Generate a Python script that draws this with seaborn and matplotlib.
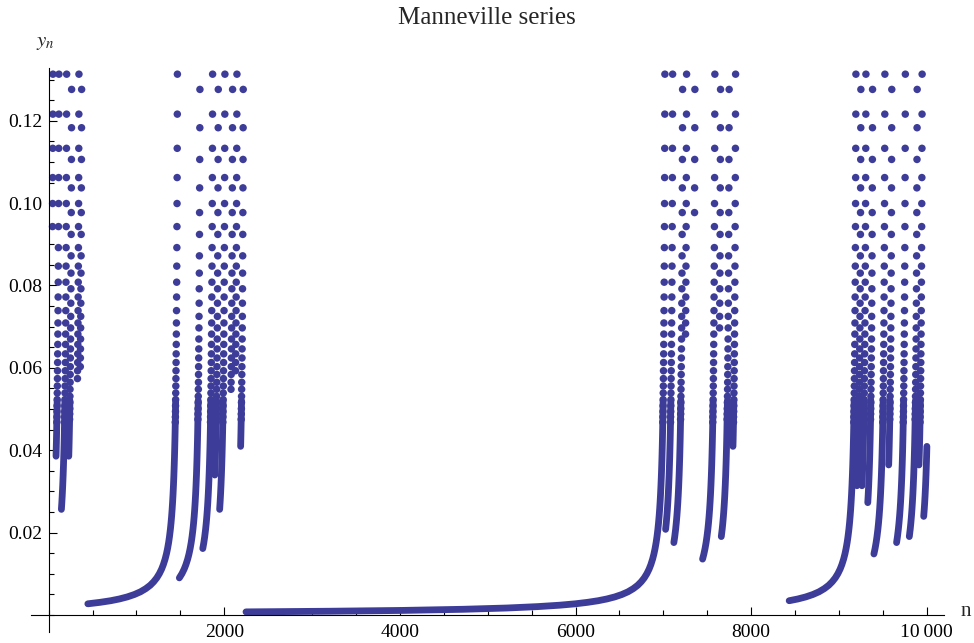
import matplotlib
matplotlib.use("Agg")
import matplotlib.pyplot as plt
import matplotlib.ticker as mticker
import numpy as np
import pandas as pd
import seaborn as sns

# ---------------- data ----------------
# upper "rungs" of every burst strand (y values of successive iterates,
# counted back from the top rung); phase A at integer steps, phase B at half steps
rung_y_a = [0.1313, 0.1216, 0.1133, 0.1062, 0.0999, 0.0943, 0.0892, 0.0847,
            0.0808, 0.0772, 0.0739, 0.0709, 0.0682, 0.0657, 0.0634, 0.0613,
            0.0593, 0.0574, 0.0556, 0.0539, 0.0523, 0.0508, 0.0494, 0.0481,
            0.0468]
rung_y_b = [0.1276, 0.1183, 0.1106, 0.1037, 0.0977, 0.0924, 0.0872, 0.0830,
            0.0792, 0.0757, 0.0725, 0.0697, 0.0670, 0.0646, 0.0624, 0.0603,
            0.0584, 0.0565, 0.0548, 0.0531, 0.0516, 0.0501, 0.0488, 0.0475]

# dense (overlapping-dot) part of the curves: iterations before top rung -> y
line_t = [20, 22, 24, 26, 28, 30, 33, 36, 40, 45, 50, 55, 60, 66, 73, 80, 90,
          100, 112, 125, 140, 160, 180, 205, 235, 270, 310, 360, 420, 490, 570,
          660, 760, 880, 1020, 1200, 1450, 1800, 2300, 3000, 3800, 4770]
line_y = [0.0521, 0.04935, 0.0469, 0.04471, 0.04274, 0.04094, 0.03855, 0.03643,
          0.03398, 0.03138, 0.02917, 0.02728, 0.02564, 0.02394, 0.02224,
          0.02079, 0.01904, 0.01758, 0.01613, 0.01482, 0.01357, 0.01223,
          0.01114, 0.01005, 0.00901, 0.00807, 0.00721, 0.0064, 0.00564,
          0.00498, 0.0044, 0.0039, 0.00347, 0.00308, 0.00272, 0.00238,
          0.00204, 0.0017, 0.00139, 0.00111, 0.00092, 0.00076]

# segments (laminar phases and burst strands): n where the top is reached,
# lowest y of the segment, rung phase (0 = A, 1 = B)
seg_n_top = [49, 117, 205, 262, 345, 376, 1466,
             1723, 1867, 1932, 2007, 2095, 2144, 2216, 7017,
             7105, 7219, 7264, 7359, 7586, 7651, 7749, 7822, 9192,
             9249, 9306, 9382, 9522, 9601, 9755, 9890, 9946, 10030]
seg_y_bottom = [0.094, 0.0376, 0.0247, 0.0382, 0.057, 0.0603, 0.0027,
                0.0089, 0.016, 0.0339, 0.0256, 0.0539, 0.058, 0.0409, 0.00075,
                0.0207, 0.0175, 0.068, 0.0938, 0.0135, 0.0676, 0.019, 0.0409, 0.0034,
                0.031, 0.031, 0.0272, 0.0148, 0.0364, 0.0175, 0.019, 0.0364, 0.0239]
seg_phase = [0, 0, 0, 1, 0, 1, 0,
             1, 0, 1, 0, 1, 0, 1, 0,
             0, 1, 0, 1, 0, 1, 1, 0, 0,
             1, 0, 1, 0, 1, 0, 1, 0, 0]
n_last = 10000

title = "Manneville series"
x_ticks = [2000, 4000, 6000, 8000, 10000]
x_tick_labels = ["2000", "4000", "6000", "8000", "10\u2009000"]
y_ticks = [0.02, 0.04, 0.06, 0.08, 0.10, 0.12]
y_tick_labels = ["0.02", "0.04", "0.06", "0.08", "0.10", "0.12"]

# ---------------- build tables ----------------
dot_rows = []
line_rows = []
for i, (ntop, ybot, ph) in enumerate(zip(seg_n_top, seg_y_bottom, seg_phase)):
    ry = rung_y_b if ph else rung_y_a
    off = 0.5 if ph else 0.0
    for k, y in enumerate(ry):
        n = ntop - (k + off)
        if y >= ybot and n <= n_last:
            dot_rows.append((n, y))
    for t, y in zip(line_t, line_y):
        n = ntop - t
        if y >= ybot and n <= n_last:
            line_rows.append((i, n, y))

dots = pd.DataFrame(dot_rows, columns=["n", "y"])
lines = pd.DataFrame(line_rows, columns=["seg", "n", "y"])

# ---------------- draw ----------------
sns.set_theme(style="white")
plt.rcParams["font.family"] = ["Liberation Serif", "DejaVu Serif"]
plt.rcParams["mathtext.fontset"] = "stix"

W, H = 974, 643
fig = plt.figure(figsize=(W / 100, H / 100), dpi=100)
ax = fig.add_axes([31 / W, 1 - 631.7 / H, (944 - 31) / W, (631.7 - 68) / H])

color = "#3d3d99"
sns.lineplot(data=lines, x="n", y="y", units="seg", estimator=None, sort=False,
             color=color, lw=4.9, solid_capstyle="round", ax=ax, legend=False)
sns.scatterplot(data=dots, x="n", y="y", color=color, s=29, linewidth=0,
                edgecolor="none", ax=ax, legend=False)

ax.set_xlim(-201, 10195)
ax.set_ylim(-0.00405, 0.1328)

for s in ["top", "right"]:
    ax.spines[s].set_visible(False)
ax.spines["left"].set_position(("data", 0))
ax.spines["bottom"].set_position(("data", 0))
for s in ["left", "bottom"]:
    ax.spines[s].set_color("black")
    ax.spines[s].set_linewidth(0.8)

ax.xaxis.set_major_locator(mticker.FixedLocator(x_ticks))
ax.xaxis.set_major_formatter(mticker.FixedFormatter(x_tick_labels))
ax.xaxis.set_minor_locator(mticker.MultipleLocator(500))
ax.yaxis.set_major_locator(mticker.FixedLocator(y_ticks))
ax.yaxis.set_major_formatter(mticker.FixedFormatter(y_tick_labels))
ax.yaxis.set_minor_locator(mticker.MultipleLocator(0.005))

ax.tick_params(which="both", direction="in", color="black", width=0.8,
               labelsize=14, labelcolor="black")
ax.tick_params(which="major", length=5.8)
ax.tick_params(which="minor", length=3.8)
ax.tick_params(axis="y", which="both", left=True, pad=4.3)
ax.tick_params(axis="x", which="both", bottom=True, pad=6.5)
ax.set_xlabel("")
ax.set_ylabel("")
ax.grid(False)

fig.text(0.5, 1 - 18 / H, title, ha="center", va="center", fontsize=18)
fig.text(45 / W, 1 - 43 / H, r"$y_n$", ha="center", va="center", fontsize=15)
fig.text(966 / W, 1 - 612 / H, "n", ha="center", va="center", fontsize=15)

fig.savefig("out.png", dpi=100)
